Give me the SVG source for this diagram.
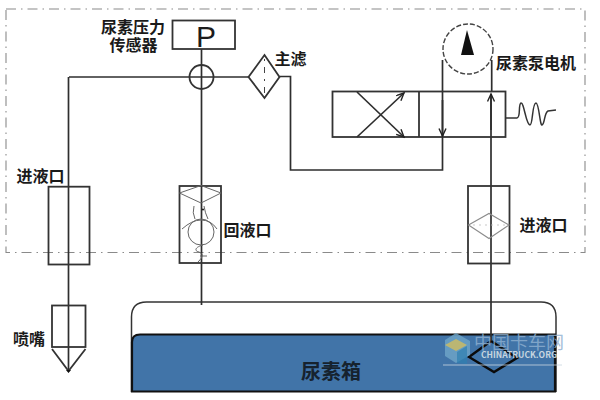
<svg xmlns="http://www.w3.org/2000/svg" width="600" height="400" viewBox="0 0 600 400">
<style>
.l{fill:none;stroke:#2e2e2e;stroke-width:1.7}
.b{fill:none;stroke:#333;stroke-width:1.8}
.t{font-family:"Noto Sans CJK SC","Liberation Sans",sans-serif;font-size:16px;font-weight:700;fill:#1a1a1a;text-anchor:middle}
.thin{fill:none;stroke:#666;stroke-width:1}
.wm{font-family:"Noto Sans CJK SC","Liberation Sans",sans-serif;text-anchor:middle}
</style>
<defs>
<marker id="a" markerWidth="10" markerHeight="10" refX="8" refY="4" orient="auto" markerUnits="userSpaceOnUse"><path d="M0.5 0.500L8 4L0.500 7.500" fill="none" stroke="#222" stroke-width="1.4"/></marker>
</defs>
<rect width="600" height="400" fill="#fff"/>
<g id="boundary"><rect x="6" y="9" width="579" height="243.500" fill="none" stroke="#8a8a8a" stroke-width="1.1" stroke-dasharray="10 5 1.500 5"/></g>

<g id="tank">
<path d="M131.500 392V317Q131.500 302 146.500 302H541Q556 302 556 317V392" fill="none" stroke="#333" stroke-width="1.500"/>
<path d="M132 391.500V342Q132 334.500 140 334.500H555V391.500Z" fill="#4174a8" stroke="#111" stroke-width="2.200"/>
<text class="t" x="331" y="379" style="font-size:20px;fill:#16222e">尿素箱</text>
</g>
<g id="tank-filter"><path d="M469 357L491 341L517 358L494 372Z" fill="none" stroke="#0a0a0a" stroke-width="2.400"/></g>

<g id="connectors">
<path class="l" d="M69 77H248"/>
<path class="l" d="M68.500 77V371"/>
<path class="l" d="M201.500 49V305"/>
<path class="l" d="M279.500 76.500H290.500V170H442.500V60"/>
<path class="l" d="M491 341V94"/>
<path class="l" d="M491.700 60V92"/>
</g>

<g id="pressure-sensor">
<rect class="b" x="172.500" y="20.500" width="62.500" height="28.500"/>
<text x="206" y="47" font-family="Liberation Sans,sans-serif" font-size="30" fill="#1c1c1c" text-anchor="middle">P</text>
<text class="t"><tspan x="133" y="33">尿素压力</tspan><tspan x="133.500" y="51">传感器</tspan></text>
</g>
<g id="junction"><circle class="b" cx="201.500" cy="77" r="12"/></g>
<g id="main-filter">
<path class="b" d="M264.500 55L279.500 77L264.500 98L248.500 77Z"/>
<path d="M264.500 59V96" fill="none" stroke="#444" stroke-width="1" stroke-dasharray="2 6 6 6"/>
<text class="t" x="290.500" y="65">主滤</text>
</g>
<g id="motor">
<circle cx="468" cy="49" r="25" fill="none" stroke="#444" stroke-width="1.400" stroke-dasharray="5 2"/>
<path d="M467 30L474 55H461Z" fill="#111"/>
<text class="t" x="536" y="69">尿素泵电机</text>
</g>
<g id="valve">
<rect class="b" x="332.500" y="91.500" width="173" height="45.500"/>
<path class="b" d="M419 91.500V137"/>
<path class="l" d="M357 92L404 137" marker-end="url(#a)"/>
<path class="l" d="M357 137L404 93" marker-end="url(#a)"/>
<path class="l" d="M442.500 100V136" marker-end="url(#a)"/>
<path class="l" d="M491 130V94" marker-end="url(#a)"/>
<path d="M505.500 118H517C521 118 518 104 521 103C524 102 526 125 530 125C533 125 532 103 536 103C539 103 540 126 542 125C545 124 544 113 548 111L556 110" fill="none" stroke="#333" stroke-width="1.500"/>
</g>
<g id="inlet-left">
<rect class="b" x="48.500" y="186.700" width="41" height="77.800"/>
<text class="t" x="40.500" y="182">进液口</text>
</g>
<g id="return-port">
<rect class="b" x="179.500" y="186" width="41.500" height="77"/>
<path class="thin" d="M179.500 193L201 185.500L221 193L201 203Z"/>
<path class="thin" d="M194 206Q192 213 195 219M204 206Q205 213 208 219M182 229Q192 220 201 220Q211 220 217 229"/>
<circle class="thin" cx="201" cy="232" r="13"/>
<path class="thin" d="M203 245C195 247 194 251 199 252C203 254 204 256 198 262M200 256H207"/>
<circle cx="203" cy="209.500" r="1" fill="#111"/>
<text class="t" x="247.500" y="236">回液口</text>
</g>
<g id="inlet-right">
<rect class="b" x="468" y="186" width="41.500" height="77.500"/>
<path d="M468.500 225L489 213.500L509 225L489 238.500Z" fill="none" stroke="#8c8c8c" stroke-width="1.100"/>
<path d="M473 225H505" fill="none" stroke="#bbb" stroke-width=".8" stroke-dasharray="2 4"/>
<text class="t" x="543.500" y="231">进液口</text>
</g>
<g id="nozzle">
<rect class="b" x="52" y="305.500" width="33.500" height="41.500"/>
<path class="b" d="M52 349L68.500 371L85.500 349"/>
<path d="M66 370H71L68.500 373Z" fill="#111"/>
<text class="t" x="29" y="345">喷嘴</text>
</g>

<g id="watermark">
<path d="M456 333L470 341V355L456 363L445 356V340Z" fill="#6fa6c8" opacity=".8"/>
<path d="M445 345L456 351L467 345L456 339Z" fill="#c4b96a" opacity=".9"/>
<path d="M457 352L467 346V364L457 363Z" fill="#2f80b0" opacity=".7"/>
<text class="wm"><tspan x="519" y="349" font-size="18" fill="#8fb0d0" opacity=".8">中国卡车网</tspan><tspan x="519" y="358" font-size="8.500" font-weight="700" fill="#dfe6ea" opacity=".85">CHINATRUCK.ORG</tspan></text>
<path d="M443 365H562" stroke="#c9d6e0" stroke-width=".8"/>
</g>
</svg>
